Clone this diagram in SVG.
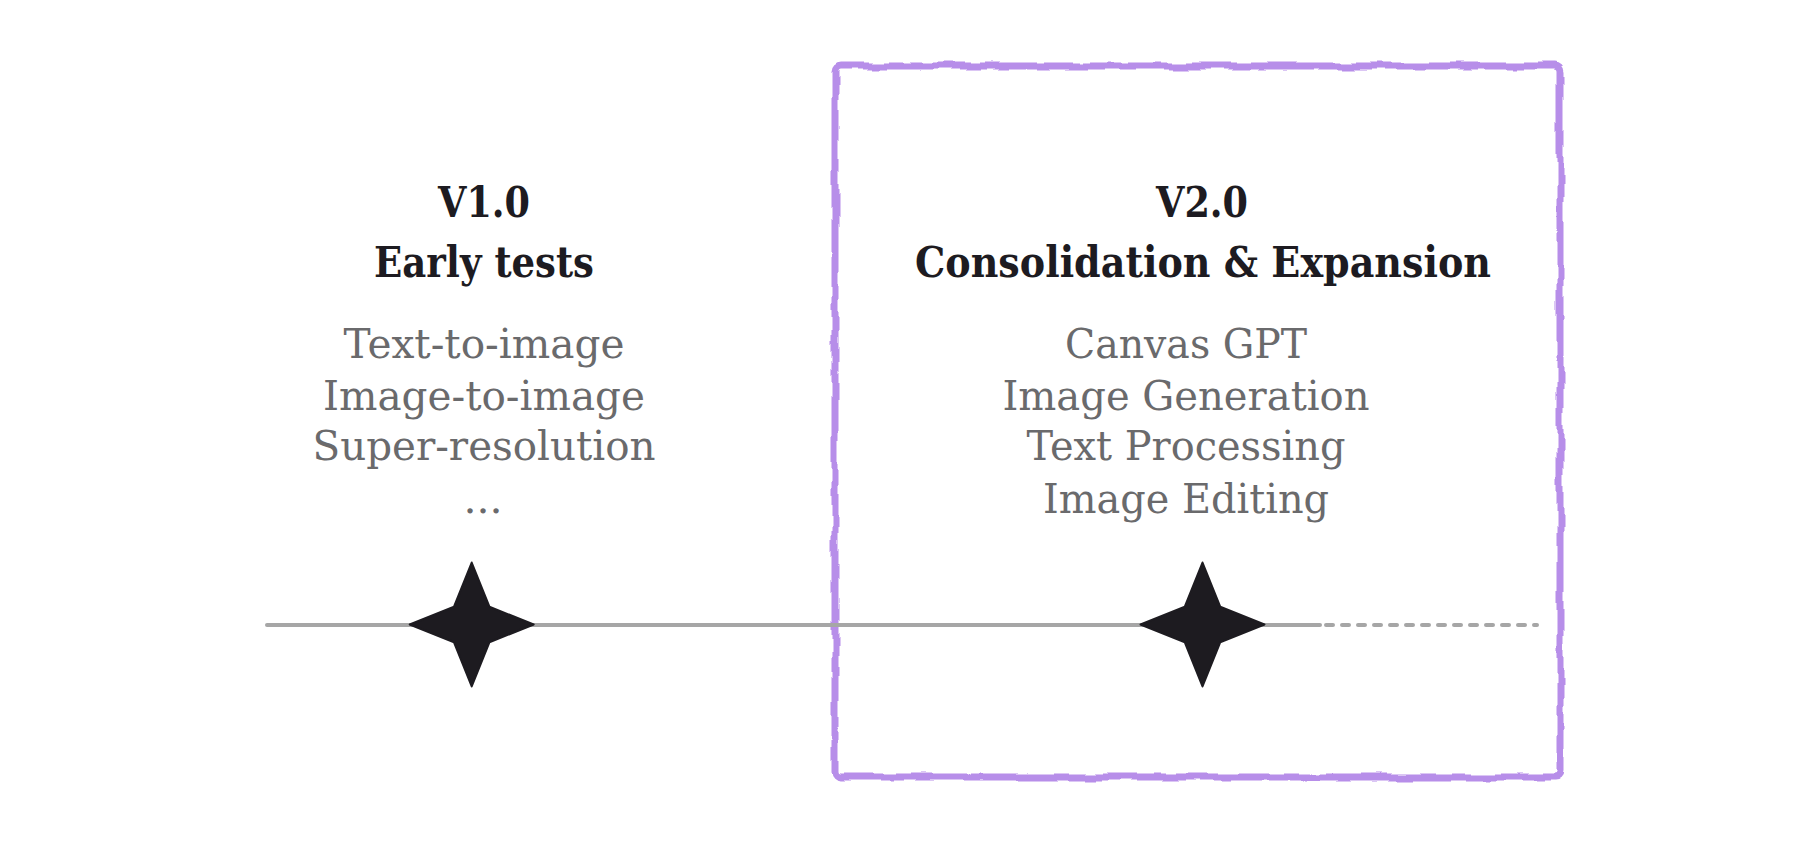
<svg xmlns="http://www.w3.org/2000/svg" width="1804" height="861" viewBox="0 0 1804 861">
<defs>
<style>
.title{font-family:"DejaVu Serif","Liberation Serif",serif;font-weight:bold;font-size:42px;fill:#1d1b21;text-anchor:middle}
.item{font-family:"DejaVu Serif","Liberation Serif",serif;font-size:41px;fill:#6a6a6c;text-anchor:middle}
.star{fill:#1d1b20;stroke:#1d1b20;stroke-width:2;stroke-linejoin:round}
.tl{stroke:#a6a6a6;stroke-width:4;stroke-linecap:round;fill:none}
</style>
<filter id="rough" x="-5%" y="-5%" width="110%" height="110%">
<feTurbulence type="fractalNoise" baseFrequency="0.03" numOctaves="2" seed="7" result="n"/>
<feDisplacementMap in="SourceGraphic" in2="n" scale="8" xChannelSelector="R" yChannelSelector="G"/>
</filter>
<path id="starShape" d="M0,-62 L17.7,-17.8 L62,0 L17.7,17.8 L0,62 L-17.7,17.8 L-62,0 L-17.7,-17.8 Z"/>
</defs>
<rect width="1804" height="861" fill="#ffffff"/>
<g id="highlight-box">
<rect x="835" y="66" width="725" height="711" rx="6" fill="none" stroke="#b78ee9" stroke-width="7" filter="url(#rough)"/>
</g>
<g id="connectors">
<line class="tl" x1="267" y1="625" x2="1320" y2="625"/>
<line class="tl" x1="1326" y1="625" x2="1537" y2="625" stroke-dasharray="7 9"/>
</g>
<g id="v1">
<use href="#starShape" class="star" transform="translate(471.7,624.5)"/>
<text class="title" x="484" y="217" textLength="92" lengthAdjust="spacingAndGlyphs">V1.0</text>
<text class="title" x="484" y="277" textLength="220" lengthAdjust="spacingAndGlyphs">Early tests</text>
<text class="item" x="484" y="358" textLength="281" lengthAdjust="spacingAndGlyphs">Text-to-image</text>
<text class="item" x="484" y="410" textLength="322" lengthAdjust="spacingAndGlyphs">Image-to-image</text>
<text class="item" x="484" y="460" textLength="343" lengthAdjust="spacingAndGlyphs">Super-resolution</text>
<text class="item" x="483" y="513">...</text>
</g>
<g id="v2">
<use href="#starShape" class="star" transform="translate(1202.5,624.5)"/>
<text class="title" x="1202" y="217" textLength="92" lengthAdjust="spacingAndGlyphs">V2.0</text>
<text class="title" x="1203" y="277" textLength="576" lengthAdjust="spacingAndGlyphs">Consolidation &amp; Expansion</text>
<text class="item" x="1186" y="358" textLength="242" lengthAdjust="spacingAndGlyphs">Canvas GPT</text>
<text class="item" x="1186" y="410" textLength="367" lengthAdjust="spacingAndGlyphs">Image Generation</text>
<text class="item" x="1186" y="460" textLength="319" lengthAdjust="spacingAndGlyphs">Text Processing</text>
<text class="item" x="1186" y="513" textLength="286" lengthAdjust="spacingAndGlyphs">Image Editing</text>
</g>
</svg>
